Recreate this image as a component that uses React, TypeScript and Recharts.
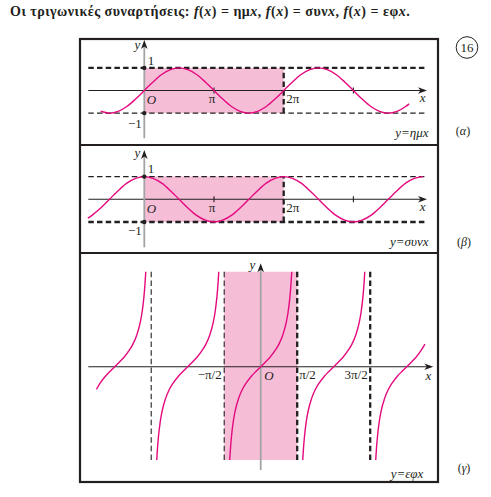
import React from 'react';
import { ComposedChart, Line, XAxis, YAxis, ReferenceArea, ReferenceLine, ReferenceDot } from 'recharts';

// x values are in units of π
const sinX = [-0.625, -0.5, -0.375, -0.25, -0.125, 0, 0.125, 0.25, 0.375, 0.5, 0.625, 0.75, 0.875, 1, 1.125, 1.25, 1.375, 1.5, 1.625, 1.75, 1.875, 2, 2.125, 2.25, 2.375, 2.5, 2.625, 2.75, 2.875, 3, 3.125, 3.25, 3.375, 3.5, 3.625, 3.75, 3.8];
const sinY = [-0.92, -1, -0.92, -0.71, -0.38, 0, 0.38, 0.71, 0.92, 1, 0.92, 0.71, 0.38, 0, -0.38, -0.71, -0.92, -1, -0.92, -0.71, -0.38, 0, 0.38, 0.71, 0.92, 1, 0.92, 0.71, 0.38, 0, -0.38, -0.71, -0.92, -1, -0.92, -0.71, -0.59];

const cosX = [-0.81, -0.75, -0.625, -0.5, -0.375, -0.25, -0.125, 0, 0.125, 0.25, 0.375, 0.5, 0.625, 0.75, 0.875, 1, 1.125, 1.25, 1.375, 1.5, 1.625, 1.75, 1.875, 2, 2.125, 2.25, 2.375, 2.5, 2.625, 2.75, 2.875, 3, 3.125, 3.25, 3.375, 3.5, 3.625, 3.75, 3.875, 4];
const cosY = [-0.83, -0.71, -0.38, 0, 0.38, 0.71, 0.92, 1, 0.92, 0.71, 0.38, 0, -0.38, -0.71, -0.92, -1, -0.92, -0.71, -0.38, 0, 0.38, 0.71, 0.92, 1, 0.92, 0.71, 0.38, 0, -0.38, -0.71, -0.92, -1, -0.92, -0.71, -0.38, 0, 0.38, 0.71, 0.92, 1];

// tangent: offsets from each branch centre (units of π) and values
const tanOffsets = [-0.4244, -0.415, -0.4, -0.375, -0.35, -0.3, -0.25, -0.2, -0.125, -0.0625, 0, 0.0625, 0.125, 0.2, 0.25, 0.3, 0.35, 0.375, 0.4, 0.415, 0.4256];
const tanValues = [-4.13, -3.66, -3.08, -2.41, -1.96, -1.38, -1, -0.73, -0.41, -0.2, 0, 0.2, 0.41, 0.73, 1, 1.38, 1.96, 2.41, 3.08, 3.66, 4.2];
const tanCenters = [-2, -1, 0, 1, 2];
const tanFrom = [-0.25, -0.4244, -0.4244, -0.4244, -0.4244];
const tanTo = [0.4256, 0.4256, 0.4256, 0.4256, 0.25];

const sinData = sinX.map((x, i) => ({ x, y: sinY[i] }));
const cosData = cosX.map((x, i) => ({ x, y: cosY[i] }));
const tanBranches = tanCenters.map((c, b) =>
  tanOffsets
    .map((o, i) => ({ o, x: c + o, y: tanValues[i] }))
    .filter((p) => p.o >= tanFrom[b] - 1e-9 && p.o <= tanTo[b] + 1e-9)
    .map(({ x, y }) => ({ x, y }))
);

const INK = '#231f20';
const CURVE = '#e4097e';
const PINK = '#f6bdd7';
const GREY = '#a3a3a3';
const SERIF = "'Liberation Serif', 'DejaVu Serif', serif";

const FRAME_L = 80;
const FRAME_R = 438;
const W = FRAME_R - FRAME_L;

const domain = (lo: number, hi: number, origin: number, unit: number, inv = false) =>
  inv ? [(origin - hi) / unit, (origin - lo) / unit] : [(lo - origin) / unit, (hi - origin) / unit];

const label = (text: React.ReactNode, dx: number, dy: number, anchor: string, italic = false, size = 13) => (p: any) => (
  <text
    x={p.cx + dx}
    y={p.cy + dy}
    textAnchor={anchor}
    fontFamily={SERIF}
    fontSize={size}
    fontStyle={italic ? 'italic' : 'normal'}
    fill={INK}
  >
    {text}
  </text>
);

const arrowRight = (p: any) => (
  <polygon points={`${p.cx},${p.cy} ${p.cx - 9},${p.cy - 3.3} ${p.cx - 6.5},${p.cy} ${p.cx - 9},${p.cy + 3.3}`} fill={INK} />
);
const arrowUp = (p: any) => (
  <polygon points={`${p.cx},${p.cy} ${p.cx - 3.3},${p.cy + 9} ${p.cx},${p.cy + 6.5} ${p.cx + 3.3},${p.cy + 9}`} fill={INK} />
);
const smallDot = (p: any) => <circle cx={p.cx} cy={p.cy} r={2.2} fill={INK} />;

const thick = { stroke: INK, strokeWidth: 2.3, strokeDasharray: '5.5 3.2' };
const thin = { stroke: INK, strokeWidth: 1.1, strokeDasharray: '5.5 3.2' };

type TrigProps = {
  top: number;
  height: number;
  oy: number;
  yUnit: number;
  data: { x: number; y: number }[];
  topDash: any;
  botDash: any;
  yBottom: number;
  yTip: number;
  eq: string;
  lbl: { y: number; one: number; O: number; pi: number; minus: number; x: number; eq: number };
};

const OX = 144.3;
const XU = 69.7;

function TrigPanel(props: TrigProps) {
  const { top, height, oy, yUnit, data, topDash, botDash, yBottom, yTip, eq, lbl } = props;
  const xd = domain(FRAME_L, FRAME_R, OX, XU);
  const yd = domain(top, top + height, oy, yUnit, true);
  const xs = (88.3 - OX) / XU;
  const xe = (427 - OX) / XU;
  const tk = 3 / yUnit;
  return (
    <div style={{ position: 'absolute', left: FRAME_L, top }}>
      <ComposedChart width={W} height={height} data={data} margin={{ top: 0, right: 0, bottom: 0, left: 0 }} style={{ overflow: 'visible' }}>
        <XAxis type="number" dataKey="x" domain={xd} hide allowDataOverflow />
        <YAxis type="number" domain={yd} hide allowDataOverflow />
        <ReferenceArea x1={0} x2={2} y1={-1} y2={1} fill={PINK} fillOpacity={1} stroke="none" />
        <ReferenceLine segment={[{ x: xs, y: 1 }, { x: xe, y: 1 }]} {...topDash} />
        <ReferenceLine segment={[{ x: xs, y: -1 }, { x: xe, y: -1 }]} {...botDash} />
        <ReferenceLine segment={[{ x: 2, y: -1 }, { x: 2, y: 1 }]} {...thick} />
        <ReferenceLine segment={[{ x: xs, y: 0 }, { x: xe - 0.05, y: 0 }]} stroke={INK} strokeWidth={1.1} />
        <ReferenceLine segment={[{ x: 1, y: -tk }, { x: 1, y: tk }]} stroke={INK} strokeWidth={1.1} />
        <ReferenceLine segment={[{ x: 3, y: -tk }, { x: 3, y: tk }]} stroke={INK} strokeWidth={1.1} />
        <ReferenceLine segment={[{ x: 0, y: yBottom }, { x: 0, y: yTip - 0.2 }]} stroke={GREY} strokeWidth={1.8} />
        <Line type="monotone" dataKey="y" stroke={CURVE} strokeWidth={1.4} dot={false} activeDot={false} isAnimationActive={false} />
        <ReferenceDot x={xe} y={0} r={0} shape={arrowRight} />
        <ReferenceDot x={0} y={yTip} r={0} shape={arrowUp} />
        <ReferenceDot x={0} y={1} r={2} shape={smallDot} />
        <ReferenceDot x={0} y={-1} r={2} shape={smallDot} />
        <ReferenceDot x={0} y={yTip} r={0} shape={label('y', -4, lbl.y, 'end', true)} />
        <ReferenceDot x={0} y={1} r={0} shape={label('1', 3.5, lbl.one, 'start')} />
        <ReferenceDot x={0} y={0} r={0} shape={label('O', 2.5, lbl.O, 'start', true)} />
        <ReferenceDot x={1} y={0} r={0} shape={label('π', -2, lbl.pi, 'middle')} />
        <ReferenceDot x={2} y={0} r={0} shape={label('2π', 2.5, lbl.pi, 'start')} />
        <ReferenceDot x={0} y={-1} r={0} shape={label('−1', -2.5, lbl.minus, 'end')} />
        <ReferenceDot x={xe} y={0} r={0} shape={label('x', -1.5, lbl.x, 'end', true)} />
        <ReferenceDot x={xe} y={0} r={0} shape={label(eq, 1.5, lbl.eq, 'end', true)} />
      </ComposedChart>
    </div>
  );
}

function TanPanel() {
  const top = 253;
  const height = 229;
  const ox = 260.7;
  const oy = 366.7;
  const xu = 73;
  const yu = 22.6;
  const xd = domain(FRAME_L, FRAME_R, ox, xu);
  const yd = domain(top, top + height, oy, yu, true);
  const xs = (88.3 - ox) / xu;
  const xe = (433.3 - ox) / xu;
  const yTop = 4.2;
  const yBot = -4.13;
  const yTip = (oy - 263.3) / yu;
  const yBottom = (oy - 470) / yu;
  return (
    <div style={{ position: 'absolute', left: FRAME_L, top }}>
      <ComposedChart width={W} height={height} margin={{ top: 0, right: 0, bottom: 0, left: 0 }} style={{ overflow: 'visible' }}>
        <XAxis type="number" dataKey="x" domain={xd} hide allowDataOverflow />
        <YAxis type="number" domain={yd} hide allowDataOverflow />
        <ReferenceArea x1={-0.5} x2={0.5} y1={yBot} y2={yTop} fill={PINK} fillOpacity={1} stroke="none" />
        <ReferenceLine segment={[{ x: -1.5, y: yBot }, { x: -1.5, y: yTop }]} {...thin} />
        <ReferenceLine segment={[{ x: -0.5, y: yBot }, { x: -0.5, y: yTop }]} {...thin} />
        <ReferenceLine segment={[{ x: 0.5, y: yBot }, { x: 0.5, y: yTop }]} {...thick} />
        <ReferenceLine segment={[{ x: 1.5, y: yBot }, { x: 1.5, y: yTop }]} {...thick} />
        <ReferenceLine segment={[{ x: xs, y: 0 }, { x: xe - 0.05, y: 0 }]} stroke={INK} strokeWidth={1.1} />
        <ReferenceLine segment={[{ x: 0, y: yBottom }, { x: 0, y: yTip - 0.2 }]} stroke={GREY} strokeWidth={1.8} />
        {tanBranches.map((d, i) => (
          <Line key={i} data={d} type="monotone" dataKey="y" stroke={CURVE} strokeWidth={1.4} dot={false} activeDot={false} isAnimationActive={false} />
        ))}
        <ReferenceDot x={xe} y={0} r={0} shape={arrowRight} />
        <ReferenceDot x={0} y={yTip} r={0} shape={arrowUp} />
        <ReferenceDot x={0} y={yTip} r={0} shape={label('y', -5.5, 6, 'end', true)} />
        <ReferenceDot x={-0.5} y={0} r={0} shape={label('−π/2', -2.5, 12.5, 'end')} />
        <ReferenceDot x={0} y={0} r={0} shape={label('O', 3.5, 13.3, 'start', true)} />
        <ReferenceDot x={0.5} y={0} r={0} shape={label('π/2', 2, 12.5, 'start')} />
        <ReferenceDot x={1.5} y={0} r={0} shape={label('3π/2', -2.5, 12.5, 'end')} />
        <ReferenceDot x={xe} y={0} r={0} shape={label('x', -2, 13, 'end', true)} />
        <ReferenceDot x={xe} y={0} r={0} shape={label('y=εφx', -10, 111.5, 'end', true)} />
      </ComposedChart>
    </div>
  );
}

export default function App() {
  const it = (s: string) => <tspan fontStyle="italic">{s}</tspan>;
  const fx = (
    <>
      {it('f')}({it('x')})
    </>
  );
  return (
    <div style={{ position: 'absolute', left: 0, top: 0, width: 491, height: 497, background: '#fff', fontFamily: SERIF }}>
      <TrigPanel
        top={28}
        height={117}
        oy={90.5}
        yUnit={22.6}
        data={sinData}
        topDash={thick}
        botDash={thin}
        yBottom={(90.5 - 138.3) / 22.6}
        yTip={(90.5 - 40) / 22.6}
        eq="y=ημx"
        lbl={{ y: 8.5, one: -3, O: 13, pi: 12, minus: 15, x: 11, eq: 46 }}
      />
      <TrigPanel
        top={145}
        height={108}
        oy={199.3}
        yUnit={22.7}
        data={cosData}
        topDash={thin}
        botDash={thick}
        yBottom={(199.3 - 247.3) / 22.7}
        yTip={(199.3 - 150) / 22.7}
        eq="y=συνx"
        lbl={{ y: 6.5, one: -3.5, O: 13.5, pi: 12.5, minus: 13, x: 11.5, eq: 47 }}
      />
      <TanPanel />
      <svg width={491} height={497} style={{ position: 'absolute', left: 0, top: 0, pointerEvents: 'none' }}>
        <text x={10} y={16} fontFamily={SERIF} fontSize={14} letterSpacing={0.5} fontWeight="bold" fill={INK}>
          {'Οι τριγωνικές συναρτήσεις: '}
          {fx}
          {' = ημ'}
          {it('x')}
          {', '}
          {fx}
          {' = συν'}
          {it('x')}
          {', '}
          {fx}
          {' = εφ'}
          {it('x')}
          {'.'}
        </text>
        <rect x={FRAME_L} y={39} width={W} height={443} fill="none" stroke={INK} strokeWidth={2.2} />
        <line x1={FRAME_L} y1={145} x2={FRAME_R} y2={145} stroke={INK} strokeWidth={2.2} />
        <line x1={FRAME_L} y1={253} x2={FRAME_R} y2={253} stroke={INK} strokeWidth={2.2} />
        <circle cx={467} cy={47.5} r={10.8} fill="none" stroke={INK} strokeWidth={1} />
        <text x={467} y={52} textAnchor="middle" fontFamily={SERIF} fontSize={13} fill={INK}>16</text>
        <text x={463} y={135} textAnchor="middle" fontFamily={SERIF} fontSize={12} fill={INK}>
          ({it('α')})
        </text>
        <text x={464} y={246} textAnchor="middle" fontFamily={SERIF} fontSize={12} fill={INK}>
          ({it('β')})
        </text>
        <text x={464} y={472} textAnchor="middle" fontFamily={SERIF} fontSize={12} fill={INK}>
          ({it('γ')})
        </text>
      </svg>
    </div>
  );
}
